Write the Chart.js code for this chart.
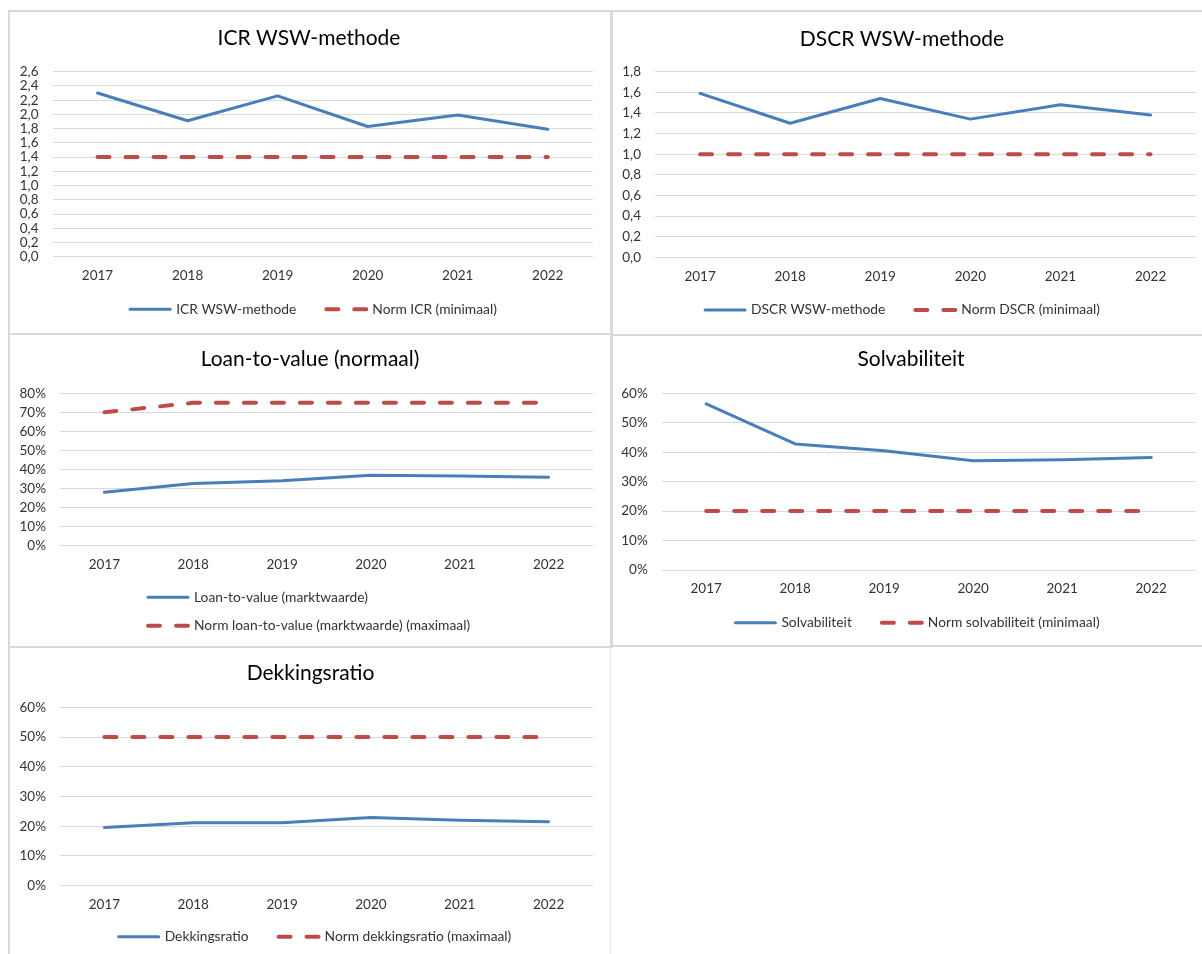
<!DOCTYPE html>
<html lang="nl">
<head>
<meta charset="utf-8">
<title>Financiële ratio's 2017–2022</title>
<script src="https://cdn.jsdelivr.net/npm/chart.js@4.4.1/dist/chart.umd.min.js"></script>
<style>
  html, body { margin: 0; padding: 0; background: #ffffff; }
  body { width: 1202px; height: 954px; position: relative; overflow: hidden; }
  canvas { position: absolute; display: block; }
  .rule { position: absolute; background: #d9d9d9; }
</style>
</head>
<body>
<canvas id="icr"  width="600" height="321" style="left:10px;top:12px;width:600px;height:321px"></canvas>
<canvas id="dscr" width="600" height="322" style="left:614px;top:12px;width:600px;height:322px"></canvas>
<canvas id="ltv"  width="600" height="311" style="left:10px;top:335px;width:600px;height:311px"></canvas>
<canvas id="solv" width="600" height="309" style="left:614px;top:336px;width:600px;height:309px"></canvas>
<canvas id="dek"  width="600" height="306" style="left:10px;top:648px;width:600px;height:306px"></canvas>

<!-- frame lines between the chart panels -->
<div class="rule" style="left:8px;top:10px;width:1194px;height:2px"></div>
<div class="rule" style="left:8px;top:333px;width:603px;height:2px"></div>
<div class="rule" style="left:611px;top:334px;width:591px;height:2px"></div>
<div class="rule" style="left:8px;top:646px;width:603px;height:2px"></div>
<div class="rule" style="left:611px;top:645px;width:591px;height:2px"></div>
<div class="rule" style="left:8px;top:10px;width:2px;height:944px"></div>
<div class="rule" style="left:610px;top:10px;width:3px;height:638px"></div>
<div class="rule" style="left:610px;top:648px;width:1px;height:306px;background:#e6e6e6"></div>

<script>
// ---- data ----
const years = ['2017', '2018', '2019', '2020', '2021', '2022'];

const icrWsw  = [2.30, 1.91, 2.26, 1.83, 1.99, 1.79];
const icrNorm = [1.4, 1.4, 1.4, 1.4, 1.4, 1.4];
const icrTicks = ['0,0', '0,2', '0,4', '0,6', '0,8', '1,0', '1,2', '1,4', '1,6', '1,8', '2,0', '2,2', '2,4', '2,6'];

const dscrWsw  = [1.59, 1.30, 1.54, 1.34, 1.48, 1.38];
const dscrNorm = [1.0, 1.0, 1.0, 1.0, 1.0, 1.0];
const dscrTicks = ['0,0', '0,2', '0,4', '0,6', '0,8', '1,0', '1,2', '1,4', '1,6', '1,8'];

const ltvMarktwaarde = [0.280, 0.327, 0.341, 0.370, 0.366, 0.359];
const ltvNorm        = [0.70, 0.75, 0.75, 0.75, 0.75, 0.75];
const ltvTicks = ['0%', '10%', '20%', '30%', '40%', '50%', '60%', '70%', '80%'];

const solvabiliteit = [0.564, 0.428, 0.405, 0.371, 0.374, 0.382];
const solvNorm      = [0.20, 0.20, 0.20, 0.20, 0.20, 0.20];
const solvTicks = ['0%', '10%', '20%', '30%', '40%', '50%', '60%'];

const dekkingsratio = [0.196, 0.212, 0.212, 0.229, 0.220, 0.215];
const dekNorm       = [0.50, 0.50, 0.50, 0.50, 0.50, 0.50];
const dekTicks = ['0%', '10%', '20%', '30%', '40%', '50%', '60%'];

// ---- styling ----
const FONT = 'Lato, "Open Sans", sans-serif';
const BLUE = '#4a7ebb';
const RED = '#be4b48';
const GRID = '#d9d9d9';
const TEXT = '#333333';

const parseTick = s => s.endsWith('%') ? parseFloat(s) / 100 : parseFloat(s.replace(',', '.'));

// moves the title horizontally to a given centre
const titleShift = {
  id: 'titleShift',
  afterLayout(chart, args, opts) {
    const t = chart.titleBlock;
    if (!t || opts.center == null) return;
    const dx = opts.center - (t.left + t.right) / 2;
    t.left += dx;
    t.right += dx;
  }
};

// legend with line samples (solid / dashed) taken from the datasets
const lineLegend = {
  id: 'lineLegend',
  afterDraw(chart, args, opts) {
    const ctx = chart.ctx;
    const ds = chart.data.datasets;
    const sample = 44, textGap = 4, itemGap = 28;
    ctx.save();
    ctx.font = `${opts.size}px ${FONT}`;
    ctx.textBaseline = 'middle';
    opts.rows.forEach((row, r) => {
      const y = opts.y + r * opts.rowHeight;
      const widths = row.map(i => sample + textGap + ctx.measureText(ds[i].label).width);
      const total = widths.reduce((a, b) => a + b, 0) + itemGap * (row.length - 1);
      let x = opts.align === 'start' ? opts.x : opts.center - total / 2;
      row.forEach((i, k) => {
        const d = ds[i];
        ctx.save();
        ctx.strokeStyle = d.borderColor;
        ctx.lineWidth = d.borderWidth;
        ctx.lineCap = 'round';
        ctx.setLineDash(d.borderDash || []);
        ctx.beginPath();
        ctx.moveTo(x + 2, y);
        ctx.lineTo(x + sample - 2, y);
        ctx.stroke();
        ctx.restore();
        ctx.fillStyle = TEXT;
        ctx.fillText(d.label, x + sample + textGap, y);
        x += widths[k] + itemGap;
      });
    });
    ctx.restore();
  }
};

function makeChart(id, cfg) {
  const tickValues = cfg.ticks.map(parseTick);
  const tickFont = { family: FONT, size: 13.5 };
  return new Chart(document.getElementById(id), {
    type: 'line',
    data: {
      labels: years,
      datasets: [
        {
          label: cfg.names[0], data: cfg.series,
          borderColor: BLUE, backgroundColor: BLUE, borderWidth: 3,
          borderCapStyle: 'round', borderJoinStyle: 'round',
          pointRadius: 0, pointHoverRadius: 0, tension: 0, fill: false
        },
        {
          label: cfg.names[1], data: cfg.norm,
          borderColor: RED, backgroundColor: RED, borderWidth: 4, borderDash: [12, 16],
          borderCapStyle: 'round', borderJoinStyle: 'round',
          pointRadius: 0, pointHoverRadius: 0, tension: 0, fill: false
        }
      ]
    },
    options: {
      responsive: false,
      animation: false,
      events: [],
      layout: { padding: { left: 0, right: cfg.padRight, top: 0, bottom: 0 } },
      scales: {
        x: {
          offset: true,
          grid: { display: false, drawTicks: false },
          border: { display: false },
          ticks: { padding: 11, color: TEXT, font: tickFont, maxRotation: 0, autoSkip: false },
          afterFit(s) { s.height = cfg.xHeight; }
        },
        y: {
          min: tickValues[0],
          max: tickValues[tickValues.length - 1],
          grid: { color: GRID, lineWidth: 1, drawTicks: false },
          border: { display: false },
          ticks: { padding: 14, color: TEXT, font: tickFont, autoSkip: false, callback: (v, i) => cfg.ticks[i] },
          afterBuildTicks(s) { s.ticks = tickValues.map(v => ({ value: v })); },
          afterFit(s) { s.width = cfg.yWidth; }
        }
      },
      plugins: {
        legend: { display: false },
        tooltip: { enabled: false },
        title: {
          display: true, text: cfg.title, color: '#000000',
          font: { family: FONT, size: 21, weight: 'normal' },
          padding: { top: cfg.titleTop, bottom: cfg.titleBottom }
        },
        titleShift: { center: cfg.titleX },
        lineLegend: cfg.legend
      }
    },
    plugins: [titleShift, lineLegend]
  });
}

makeChart('icr', {
  title: 'ICR WSW-methode', titleX: 299, titleTop: 13.4, titleBottom: 21.1,
  names: ['ICR WSW-methode', 'Norm ICR (minimaal)'],
  series: icrWsw, norm: icrNorm, ticks: icrTicks,
  yWidth: 42.5, padRight: 17.2, xHeight: 76.3,
  legend: { rows: [[0, 1]], y: 297.3, center: 302.5, size: 13.8, rowHeight: 0 }
});

makeChart('dscr', {
  title: 'DSCR WSW-methode', titleX: 288, titleTop: 14.2, titleBottom: 20.3,
  names: ['DSCR WSW-methode', 'Norm DSCR (minimaal)'],
  series: dscrWsw, norm: dscrNorm, ticks: dscrTicks,
  yWidth: 41, padRight: 18.4, xHeight: 76.7,
  legend: { rows: [[0, 1]], y: 298, center: 287.5, size: 13.8, rowHeight: 0 }
});

makeChart('ltv', {
  title: 'Loan-to-value (normaal)', titleX: 300, titleTop: 11.6, titleBottom: 21.5,
  names: ['Loan-to-value (marktwaarde)', 'Norm loan-to-value (marktwaarde) (maximaal)'],
  series: ltvMarktwaarde, norm: ltvNorm, ticks: ltvTicks,
  yWidth: 50, padRight: 17, xHeight: 100.3,
  legend: { rows: [[0], [1]], y: 262.3, x: 136, align: 'start', size: 13.8, rowHeight: 28.4 }
});

makeChart('solv', {
  title: 'Solvabiliteit', titleX: 297, titleTop: 11.1, titleBottom: 21,
  names: ['Solvabiliteit', 'Norm solvabiliteit (minimaal)'],
  series: solvabiliteit, norm: solvNorm, ticks: solvTicks,
  yWidth: 47.7, padRight: 18.3, xHeight: 75,
  legend: { rows: [[0, 1]], y: 286.7, center: 302.5, size: 13.8, rowHeight: 0 }
});

makeChart('dek', {
  title: 'Dekkingsratio', titleX: 300.5, titleTop: 12.2, titleBottom: 21.9,
  names: ['Dekkingsratio', 'Norm dekkingsratio (maximaal)'],
  series: dekkingsratio, norm: dekNorm, ticks: dekTicks,
  yWidth: 50, padRight: 17, xHeight: 68.3,
  legend: { rows: [[0, 1]], y: 288.7, center: 304, size: 13.8, rowHeight: 0 }
});
</script>
</body>
</html>
